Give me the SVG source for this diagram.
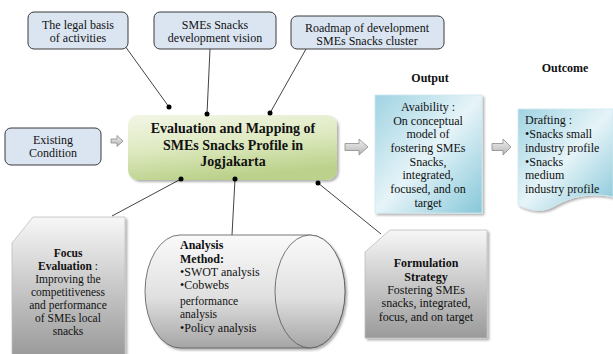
<svg xmlns="http://www.w3.org/2000/svg" width="613" height="354" viewBox="0 0 613 354">
<style>
text{font-family:"Liberation Serif","Times New Roman",serif;fill:#111;}
.t{font-size:12px;text-anchor:middle;}
.f{font-size:11.5px;text-anchor:middle;}
.b{font-weight:bold;}
.c{text-anchor:middle;}
.pill{fill:#dbe5f1;stroke:#3a3a3a;stroke-width:1;}
.ln{stroke:#111;stroke-width:0.8;fill:none;}
.dot{fill:#000;}
.arr{fill:url(#ga);stroke:#8a8a8a;stroke-width:0.8;}
</style>
<defs>
<linearGradient id="gg" x1="0" y1="0" x2="0.3" y2="1">
<stop offset="0" stop-color="#f2f6e6"/><stop offset="0.5" stop-color="#dfeac2"/><stop offset="1" stop-color="#bcd28c"/>
</linearGradient>
<linearGradient id="gb" x1="0" y1="0" x2="1" y2="1">
<stop offset="0" stop-color="#9fd3e2"/><stop offset="0.5" stop-color="#e6f4f8"/><stop offset="1" stop-color="#86c7d9"/>
</linearGradient>
<linearGradient id="gy" x1="0" y1="0" x2="0" y2="1">
<stop offset="0" stop-color="#f7f7f7"/><stop offset="1" stop-color="#9a9a9a"/>
</linearGradient>
<linearGradient id="gc" x1="0" y1="0" x2="0" y2="1">
<stop offset="0" stop-color="#fafafa"/><stop offset="0.55" stop-color="#e0e0e0"/><stop offset="1" stop-color="#a5a5a5"/>
</linearGradient>
<linearGradient id="ga" x1="0" y1="0" x2="0" y2="1">
<stop offset="0" stop-color="#f0f0f0"/><stop offset="1" stop-color="#b5b5b5"/>
</linearGradient>
<filter id="sh" x="-10%" y="-10%" width="125%" height="125%">
<feDropShadow dx="2" dy="2" stdDeviation="1.2" flood-color="#000" flood-opacity="0.3"/>
</filter>
</defs>

<g id="connectors">
<line class="ln" x1="125" y1="46" x2="169" y2="107"/>
<line class="ln" x1="210" y1="49" x2="207" y2="114"/>
<line class="ln" x1="306" y1="49" x2="270" y2="113"/>
<line class="ln" x1="181" y1="179" x2="112" y2="216"/>
<line class="ln" x1="235" y1="179" x2="232" y2="235"/>
<line class="ln" x1="318" y1="183" x2="381" y2="234"/>
<path class="arr" d="M111,139 h6 v-3.5 l6,5.5 l-6,5.5 v-3.5 h-6 z"/>
<path class="arr" d="M345,143.5 h14 v-4.5 l9,8 l-9,8 v-4.5 h-14 z"/>
<path class="arr" d="M492,143.5 h11 v-4.5 l8,8 l-8,8 v-4.5 h-11 z"/>
</g>

<g id="legal">
<rect class="pill" x="28" y="12" width="100" height="37" rx="6"/>
<text class="t" x="78" y="29">The legal basis</text>
<text class="t" x="78" y="42">of activities</text>
</g>
<g id="vision">
<rect class="pill" x="154" y="12" width="122" height="37" rx="6"/>
<text class="t" x="215" y="29">SMEs Snacks</text>
<text class="t" x="215" y="42">development vision</text>
</g>
<g id="roadmap">
<rect class="pill" x="291" y="16" width="153" height="33" rx="6"/>
<text class="t" x="367" y="32">Roadmap of development</text>
<text class="t" x="367" y="45">SMEs Snacks cluster</text>
</g>
<g id="existing">
<rect class="pill" x="5" y="128" width="96" height="37" rx="6"/>
<text class="t" x="53" y="144">Existing</text>
<text class="t" x="53" y="157">Condition</text>
</g>

<g id="main">
<rect x="128" y="115" width="209" height="65" rx="10" fill="url(#gg)" filter="url(#sh)"/>
<text class="c b" x="233" y="133" font-size="14">Evaluation and Mapping of</text>
<text class="c b" x="233" y="150" font-size="14">SMEs Snacks Profile in</text>
<text class="c b" x="233" y="166" font-size="14">Jogjakarta</text>
</g>
<g id="dots">
<circle class="dot" cx="169" cy="107" r="2.5"/>
<circle class="dot" cx="207" cy="114" r="2.5"/>
<circle class="dot" cx="270" cy="113" r="2.5"/>
<circle class="dot" cx="181" cy="179" r="2.5"/>
<circle class="dot" cx="235" cy="179" r="2.5"/>
<circle class="dot" cx="318" cy="183" r="2.5"/>
</g>

<g id="output">
<text class="c b" x="430" y="82" font-size="12">Output</text>
<rect x="375" y="95" width="107" height="118" fill="url(#gb)" stroke="#cfe8ef" stroke-width="0.8" filter="url(#sh)"/>
<text class="t" x="428" y="111">Avaibility :</text>
<text class="t" x="428" y="125">On conceptual</text>
<text class="t" x="428" y="138">model of</text>
<text class="t" x="428" y="152">fostering SMEs</text>
<text class="t" x="428" y="166">Snacks,</text>
<text class="t" x="428" y="179">integrated,</text>
<text class="t" x="428" y="193">focused, and on</text>
<text class="t" x="428" y="207">target</text>
</g>

<g id="outcome">
<text class="c b" x="565" y="72" font-size="12">Outcome</text>
<path d="M518,109 L613,109 L613,197 C592,192 572,196 556,205 C545,212 532,212 518,205 Z" fill="url(#gb)" stroke="#cfe8ef" stroke-width="0.8" filter="url(#sh)"/>
<text x="525" y="124" font-size="12">Drafting :</text>
<text x="525" y="138" font-size="12">•Snacks small</text>
<text x="525" y="152" font-size="12">industry profile</text>
<text x="525" y="166" font-size="12">•Snacks</text>
<text x="525" y="179" font-size="12">medium</text>
<text x="525" y="193" font-size="12">industry profile</text>
</g>

<g id="focus">
<path d="M33,217 L125,217 L125,356 L12,356 L12,243 Z" fill="url(#gy)" stroke="#bdbdbd" stroke-width="0.8" filter="url(#sh)"/>
<text class="f b" x="68" y="257">Focus</text>
<text class="f" x="68" y="270"><tspan class="b">Evaluation</tspan> :</text>
<text class="f" x="68" y="283">Improving the</text>
<text class="f" x="68" y="296">competitiveness</text>
<text class="f" x="68" y="309">and performance</text>
<text class="f" x="68" y="322">of SMEs local</text>
<text class="f" x="68" y="335">snacks</text>
</g>

<g id="analysis">
<path d="M180,235 L310,235 A35,56.5 0 0 1 310,348 L180,348 A35,56.5 0 0 1 180,235 Z" fill="url(#gc)" stroke="#555" stroke-width="0.8" filter="url(#sh)"/>
<ellipse cx="310" cy="291.5" rx="35" ry="56.5" fill="url(#gc)" stroke="#555" stroke-width="0.8"/>
<text class="b" x="180" y="249" font-size="12">Analysis</text>
<text class="b" x="180" y="263" font-size="12">Method:</text>
<text x="180" y="276" font-size="12">•SWOT analysis</text>
<text x="180" y="289" font-size="12">•Cobwebs</text>
<text x="180" y="305" font-size="11.5">performance</text>
<text x="180" y="318" font-size="11.5">analysis</text>
<text x="180" y="332" font-size="12">•Policy analysis</text>
</g>

<g id="formulation">
<path d="M390,230 L487,230 L487,338 L365,338 L365,252 Z" fill="url(#gy)" stroke="#bdbdbd" stroke-width="0.8" filter="url(#sh)"/>
<text class="t b" x="426" y="267">Formulation</text>
<text class="t b" x="426" y="281">Strategy</text>
<text class="t" x="426" y="294">Fostering SMEs</text>
<text class="t" x="426" y="307">snacks, integrated,</text>
<text class="t" x="426" y="321">focus, and on target</text>
</g>
</svg>
